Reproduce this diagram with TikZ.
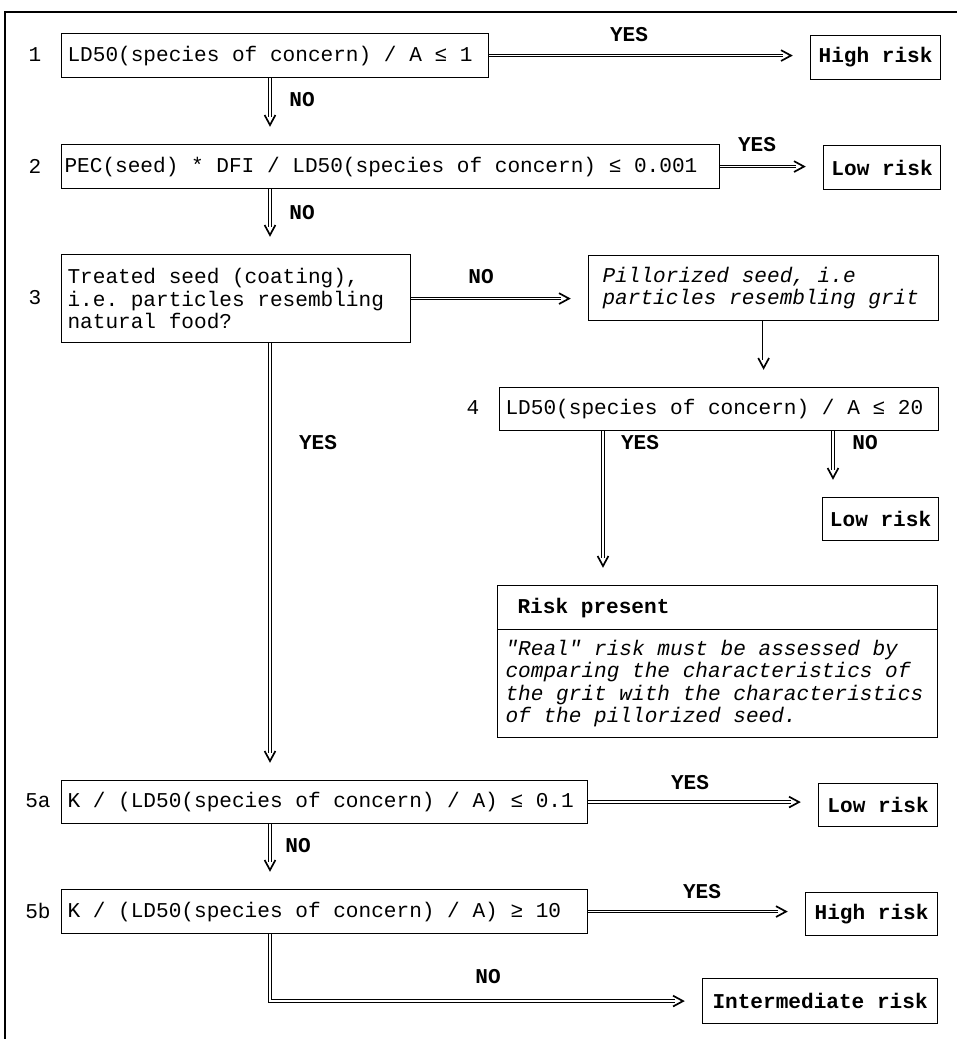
\documentclass[tikz,border=0pt]{standalone}
\usepackage{fontspec}
\setmainfont{Liberation Mono}[Ligatures=TeXOff]
\usetikzlibrary{arrows.meta, decorations.markings}
\setlength{\parindent}{0pt}
\newcommand{\fsz}{\fontsize{15}{15.8}\selectfont}

\begin{document}
\begin{tikzpicture}[x=0.025cm, y=-0.025cm,
    cond/.style={draw, line width=0.8pt, font=\fsz, anchor=north west, inner xsep=0.15cm, inner ysep=0pt, minimum height=1.1cm,
        execute at begin node={\spaceskip=0.6em\relax\xspaceskip=0.6em\relax}},
    risk/.style={draw, line width=0.8pt, font=\fsz\bfseries, anchor=north west, inner sep=0pt, minimum height=1.1cm},
    num/.style={font=\fsz},
    ans/.style={font=\fsz\bfseries},
    dbl/.style={double, double distance=1.3pt, line width=0.55pt, shorten >=0.68cm,
        postaction={decorate, decoration={markings, mark=at position -0.43cm with
            {\pgfsetinnerlinewidth{0pt}\arrow{Straight Barb[length=0.25cm, width=0.27cm, line width=1.2pt]}}}}}]
        \useasboundingbox (0,0) rectangle (957,1039);
        % Draw the frame
        \draw[line width=1pt] (5,1039) |- (957,12);
        \coordinate (col) at (270,0);
        \coordinate (c4y) at (603,0);
        \coordinate (c4n) at (833,0);

        % Draw the blocks
        \node (b1)  [cond, text width=10.375cm] at (61,33) {LD50(species of concern) / A ≤ 1};
        \node (hr1) [risk, minimum width=3.25cm] at (810,35) {High risk};
        \node (b2)  [cond, inner xsep=0.075cm, text width=16.3cm] at (61,144) {PEC(seed) * DFI / LD50(species of concern) ≤ 0.001};
        \node (lr2) [risk, minimum width=2.925cm] at (823,145) {Low risk};
        \node (b3)  [cond, text width=8.425cm, minimum height=2.2cm] at (61,254) {Treated seed (coating),\\i.e. particles resembling\\natural food?};
        \node (pill) [cond, font=\fsz\itshape, inner xsep=0.35cm, text width=8.05cm, minimum height=1.625cm] at (588,255) {Pillorized seed, i.e\\particles resembling grit};
        \node (b4)  [cond, text width=10.675cm, minimum height=1.075cm] at (499,387) {LD50(species of concern) / A ≤ 20};
        \node (lr4) [risk, minimum width=2.9cm, minimum height=1.075cm] at (822,497) {Low risk};
        \node (rph) [cond, font=\fsz\bfseries, inner xsep=0.5cm, text width=10cm] at (497,585) {Risk present};
        \node (rpb) [cond, font=\fsz\itshape, inner xsep=0.2cm, text width=10.6cm, minimum height=2.7cm] at (497,629) {"Real" risk must be assessed by\\comparing the characteristics of\\the grit with the characteristics\\of the pillorized seed.};
        \node (b5a) [cond, text width=12.85cm, minimum height=1.075cm] at (61,780) {K / (LD50(species of concern) / A) ≤ 0.1};
        \node (lr5) [risk, minimum width=2.975cm, minimum height=1.075cm] at (818,783) {Low risk};
        \node (b5b) [cond, text width=12.85cm] at (61,889) {K / (LD50(species of concern) / A) ≥ 10};
        \node (hr5) [risk, minimum width=3.3cm, minimum height=1.075cm] at (805,892) {High risk};
        \node (ir)  [risk, minimum width=5.875cm, minimum height=1.125cm] at (702,978) {Intermediate risk};

        % Step numbers
        \node (n1)  [num] at (35,55) {1};
        \node (n2)  [num] at (35,166) {2};
        \node (n3)  [num] at (35,298) {3};
        \node (n4)  [num] at (473,408) {4};
        \node (n5a) [num] at (38,801) {5a};
        \node (n5b) [num] at (38,911) {5b};

        % Draw the connecting lines
        \draw[dbl] (b1.east) -- (b1.east -| hr1.west);
        \draw[dbl] (b1.south -| col) -- (b2.north -| col);
        \draw[dbl] (b2.east) -- (b2.east -| lr2.west);
        \draw[dbl] (b2.south -| col) -- (b3.north -| col);
        \draw[dbl] (b3.east) -- (b3.east -| pill.west);
        \draw[dbl] (b3.south -| col) -- (b5a.north -| col);
        \draw[dbl] (pill.south) -- (pill.south |- b4.north);
        \draw[dbl] (b4.south -| c4y) -- (rph.north -| c4y);
        \draw[dbl] (b4.south -| c4n) -- (lr4.north -| c4n);
        \draw[dbl] (b5a.east) -- (b5a.east -| lr5.west);
        \draw[dbl] (b5a.south -| col) -- (b5b.north -| col);
        \draw[dbl] (b5b.east) -- (b5b.east -| hr5.west);
        \draw[dbl] (b5b.south -| col) |- (ir.west);

        % Labels on the connections
        \node (y1)  [ans] at (629,35) {YES};
        \node (no1) [ans] at (302,100) {NO};
        \node (y2)  [ans] at (757,145) {YES};
        \node (no2) [ans] at (302,213) {NO};
        \node (no3) [ans] at (481,277) {NO};
        \node (y3)  [ans] at (318,443) {YES};
        \node (y4)  [ans] at (640,443) {YES};
        \node (no4) [ans] at (865,443) {NO};
        \node (y5a) [ans] at (690,783) {YES};
        \node (no5a) [ans] at (298,846) {NO};
        \node (y5b) [ans] at (702,892) {YES};
        \node (no5b) [ans] at (488,977) {NO};
    \end{tikzpicture}
\end{document}
